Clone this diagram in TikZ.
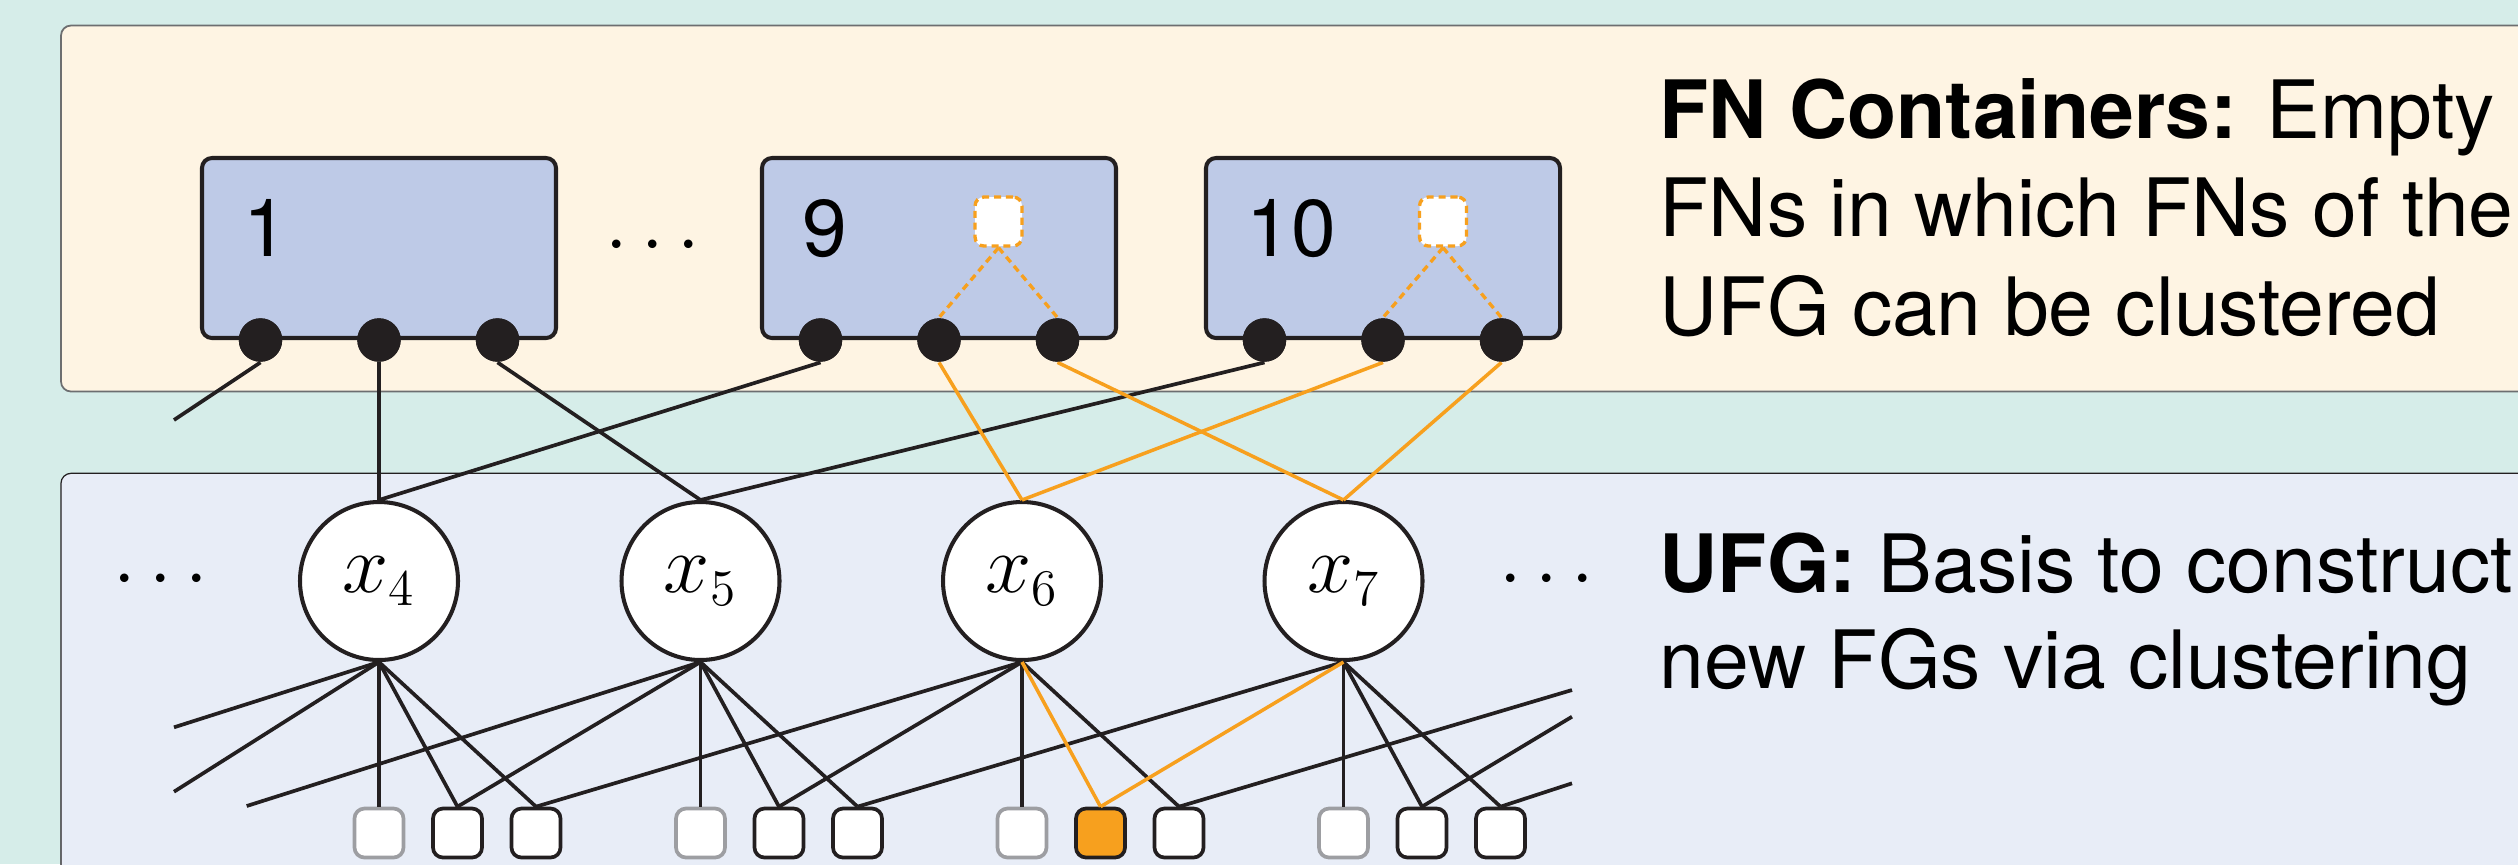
\RequirePackage{fix-cm}
\documentclass[tikz,border=0pt]{standalone}
\usepackage[no-math]{fontspec}
\setmainfont{TeX Gyre Heros}
\usetikzlibrary{calc}
\DeclareMathSizes{23.6}{23.6}{14.6}{11}

\definecolor{bgteal}{HTML}{D6EDE9}
\definecolor{cream}{HTML}{FEF4E3}
\definecolor{lavender}{HTML}{E8EDF7}
\definecolor{fnblue}{HTML}{BECAE7}
\definecolor{ink}{HTML}{231F20}
\definecolor{accent}{HTML}{F7A01E}
\definecolor{muted}{HTML}{9D9EA2}
\definecolor{panelline}{HTML}{6D6E70}

\begin{document}
\begin{tikzpicture}[x=0.1mm, y=-0.1mm,
  fnbox/.style={draw=ink, fill=fnblue, line width=1.15pt, rounded corners=1mm,
    minimum width=35.4mm, minimum height=18mm, inner sep=0pt},
  portdot/.style={circle, fill=ink, minimum size=4.34mm, inner sep=0pt},
  slot/.style={draw=accent, fill=white, line width=0.95pt,
    dash pattern=on 2pt off 1.4pt, rounded corners=0.9mm,
    minimum width=4.7mm, minimum height=4.9mm, inner sep=0pt},
  varnode/.style={circle, draw=ink, fill=white, line width=1.15pt,
    minimum size=15.8mm, inner sep=0pt, font=\fontsize{23.6}{28}\selectfont},
  factor/.style={draw=ink, fill=white, line width=1.05pt, rounded corners=1mm,
    minimum width=4.9mm, minimum height=4.9mm, inner sep=0pt},
  factorgray/.style={factor, draw=muted},
  factorsel/.style={factor, fill=accent},
  wire/.style={draw=ink, line width=1.05pt},
  hotwire/.style={draw=accent, line width=1pt},
  hotdash/.style={draw=accent, line width=0.95pt, dash pattern=on 2pt off 1.4pt},
  boxnum/.style={font=\fontsize{22.9}{28}\selectfont, inner sep=0pt, anchor=base west},
  txt/.style={font=\fontsize{22.9}{28}\selectfont, inner sep=0pt, anchor=base west},
  dotsnode/.style={font=\fontsize{23}{28}\selectfont, inner sep=0pt}
]
\useasboundingbox (0,0) rectangle (2518,864);
\clip (0,0) rectangle (2518,864);
\fill[bgteal] (0,0) rectangle (2518,864);

% panels
\draw[panelline, line width=0.5pt, fill=cream, rounded corners=1mm]
  (61,25.5) rectangle (2700,391.5);
\draw[ink, line width=0.35pt, fill=lavender, rounded corners=1mm]
  (61,473.3) rectangle (2700,1000);

% FN containers
\node[fnbox] (b1) at (379,248) {};
\node[fnbox] (b9) at (939,248) {};
\node[fnbox] (b10) at (1383,248) {};
\node[boxnum] (n1) at (242.5,256) {1};
\node[boxnum] (n9) at (801.5,256) {9};
\node[boxnum] (n10) at (1246,256) {10};
\node[dotsnode] (d1) at (652.5,247) {$\cdots$};

% empty slots
\node[slot] (s9) at (998.5,221.5) {};
\node[slot] (s10) at (1443,221.5) {};

% ports
\node[portdot] (b1p1) at (260.5,340) {};
\node[portdot] (b1p2) at (379,340) {};
\node[portdot] (b1p3) at (497.5,340) {};
\node[portdot] (b9p1) at (820.5,340) {};
\node[portdot] (b9p2) at (939,340) {};
\node[portdot] (b9p3) at (1057.5,340) {};
\node[portdot] (b10p1) at (1264.5,340) {};
\node[portdot] (b10p2) at (1383,340) {};
\node[portdot] (b10p3) at (1501.5,340) {};

% variable nodes
\node[varnode] (x4) at (379,581) {$x_4$};
\node[varnode] (x5) at (700.5,581) {$x_5$};
\node[varnode] (x6) at (1022,581) {$x_6$};
\node[varnode] (x7) at (1343.5,581) {$x_7$};
\node[dotsnode] (d2) at (160.8,581) {$\cdots$};
\node[dotsnode] (d3) at (1546.5,581) {$\cdots$};

% factor nodes
\node[factorgray] (f4a) at (379,833) {};
\node[factor]     (f4b) at (457.5,833) {};
\node[factor]     (f4c) at (536,833) {};
\node[factorgray] (f5a) at (700.5,833) {};
\node[factor]     (f5b) at (779,833) {};
\node[factor]     (f5c) at (857.5,833) {};
\node[factorgray] (f6a) at (1022,833) {};
\node[factorsel]  (f6b) at (1100.5,833) {};
\node[factor]     (f6c) at (1179,833) {};
\node[factorgray] (f7a) at (1343.5,833) {};
\node[factor]     (f7b) at (1422,833) {};
\node[factor]     (f7c) at (1500.5,833) {};

% free ends of edges leaving the visible part of the graph
\coordinate (T1) at (174,420);
\coordinate (L1) at (174,727.3);
\coordinate (L2) at (174,791.7);
\coordinate (L3) at (246.7,806);
\coordinate (R1) at (1572,690);
\coordinate (R2) at (1572,716.7);
\coordinate (R3) at (1572,783.3);

% slot links
\draw[hotdash] (s9.south) -- (b9p2.north);
\draw[hotdash] (s9.south) -- (b9p3.north);
\draw[hotdash] (s10.south) -- (b10p2.north);
\draw[hotdash] (s10.south) -- (b10p3.north);

% container ports to variables
\draw[wire] (b1p1.south) -- (T1);
\draw[wire] (b1p2.south) -- (x4.north);
\draw[wire] (b1p3.south) -- (x5.north);
\draw[wire] (b9p1.south) -- (x4.north);
\draw[wire] (b10p1.south) -- (x5.north);
\draw[hotwire] (b9p2.south) -- (x6.north);
\draw[hotwire] (b9p3.south) -- (x7.north);
\draw[hotwire] (b10p2.south) -- (x6.north);
\draw[hotwire] (b10p3.south) -- (x7.north);

% variables to factors
\draw[wire] (x4.south) -- (L1);
\draw[wire] (x4.south) -- (L2);
\draw[wire] (x4.south) -- (f4a.north);
\draw[wire] (x4.south) -- (f4b.north);
\draw[wire] (x4.south) -- (f4c.north);
\draw[wire] (x5.south) -- (L3);
\draw[wire] (x5.south) -- (f4b.north);
\draw[wire] (x5.south) -- (f5a.north);
\draw[wire] (x5.south) -- (f5b.north);
\draw[wire] (x5.south) -- (f5c.north);
\draw[wire] (x6.south) -- (f4c.north);
\draw[wire] (x6.south) -- (f5b.north);
\draw[wire] (x6.south) -- (f6a.north);
\draw[wire] (x6.south) -- (f6c.north);
\draw[wire] (x7.south) -- (f5c.north);
\draw[wire] (x7.south) -- (f7a.north);
\draw[wire] (x7.south) -- (f7b.north);
\draw[wire] (x7.south) -- (f7c.north);
\draw[wire] (f6c.north) -- (R1);
\draw[wire] (f7b.north) -- (R2);
\draw[wire] (f7c.north) -- (R3);
\draw[hotwire] (x6.south) -- (f6b.north);
\draw[hotwire] (x7.south) -- (f6b.north);

% port dots above the dashed slot links
\foreach \p in {b1p1,b1p2,b1p3,b9p1,b9p2,b9p3,b10p1,b10p2,b10p3}
  \fill[ink] (\p) circle (2.17mm);

% descriptions
\node[txt] (t1) at (1659,138) {\textbf{FN Containers:}\ \hspace{2pt}Empty};
\node[txt] (t2) at (1659,236.7) {FNs in which FNs of the};
\node[txt] (t3) at (1659,335) {UFG can be clustered};
\node[txt] (u1) at (1659,592) {\textbf{UFG:} Basis to construct};
\node[txt] (u2) at (1659,688.7) {new FGs via clustering};
\end{tikzpicture}
\end{document}
